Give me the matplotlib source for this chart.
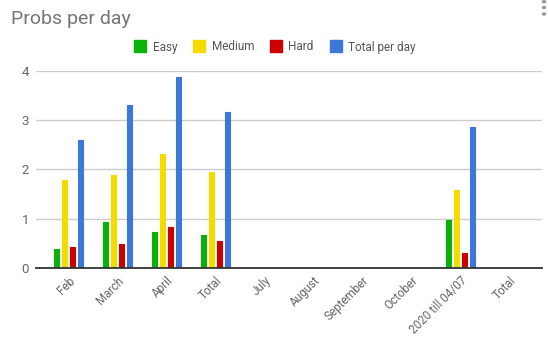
import matplotlib
matplotlib.use("Agg")
import matplotlib.pyplot as plt
from matplotlib.lines import Line2D
import numpy as np

plt.rcParams['font.family'] = ['Roboto', 'DejaVu Sans']

categories = ["Feb", "March", "April", "Total", "July", "August",
              "September", "October", "2020 till 04/07", "Total"]
easy = [0.38, 0.93, 0.73, 0.67, 0, 0, 0, 0, 0.97, 0]
medium = [1.79, 1.89, 2.31, 1.94, 0, 0, 0, 0, 1.58, 0]
hard = [0.42, 0.49, 0.83, 0.55, 0, 0, 0, 0, 0.30, 0]
total_per_day = [2.60, 3.31, 3.88, 3.16, 0, 0, 0, 0, 2.86, 0]

series = [("Easy", easy, "#09b109"), ("Medium", medium, "#f4db00"),
          ("Hard", hard, "#cc0000"), ("Total per day", total_per_day, "#3c78d8")]

W, H = 548, 342
fig = plt.figure(figsize=(W / 100, H / 100), dpi=100)
ax = fig.add_axes([36 / W, 1 - 268 / H, (542 - 36) / W, (268 - 71) / H])

x = np.arange(len(categories))
step = 0.163
width = 0.12
for i, (name, vals, col) in enumerate(series):
    offs = (i - 1.5) * step
    ax.bar(x + offs, vals, width=width, color=col, edgecolor=col,
           linewidth=0.8, joinstyle='round', zorder=3)

ax.set_xlim(-0.663, 9.663)
ax.set_ylim(0, 4)
ax.set_yticks([0, 1, 2, 3, 4])
ax.set_yticklabels(["0", "1", "2", "3", "4"], color="#666666", fontsize=9.5)
ax.yaxis.grid(True, color="#cccccc", linewidth=1, zorder=0)
ax.set_axisbelow(True)
for s in ["top", "right", "left"]:
    ax.spines[s].set_visible(False)
ax.spines["bottom"].set_color("#333333")
ax.spines["bottom"].set_linewidth(1.3)
ax.spines["bottom"].set_zorder(4)
ax.tick_params(axis="both", length=0)
ax.tick_params(axis="y", pad=5)

ax.set_xticks(x)
ax.set_xticklabels(categories, rotation=45, ha="right", rotation_mode="anchor",
                   color="#666666", fontsize=8.5)
ax.tick_params(axis="x", pad=4.5)

fig.text(11 / W, 1 - 19 / H, "Probs per day", fontsize=14, color="#757575",
         va="center", ha="left")

handles = [Line2D([], [], marker="s", linestyle="", markersize=8.8, color=c,
                  label=n) for n, _, c in series]
leg = fig.legend(handles=handles, loc="center", bbox_to_anchor=(275 / W, 1 - 47 / H),
                 ncol=4, frameon=False, fontsize=8.5, handlelength=1.0,
                 handletextpad=0.55, columnspacing=1.35)
for t in leg.get_texts():
    t.set_color("#555555")

# menu dots in the top-right corner
for yy in (1.7, 7.5, 14):
    fig.patches.append(matplotlib.patches.Circle((544 / W, 1 - yy / H), 1.6 / W,
                       transform=fig.transFigure, color="#999999"))

fig.savefig("out.png", dpi=100)
